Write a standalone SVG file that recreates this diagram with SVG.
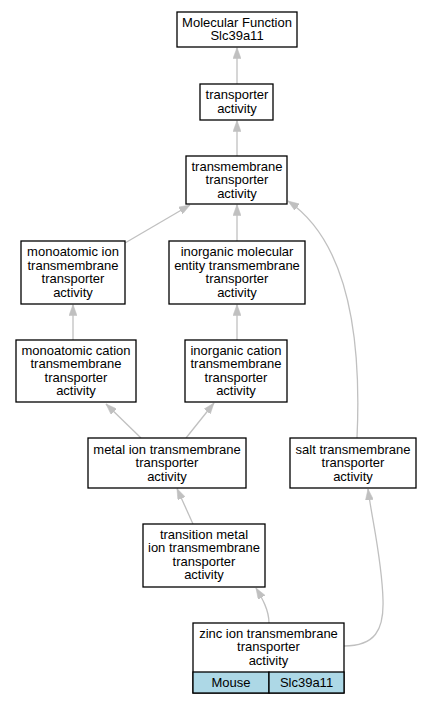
<svg xmlns="http://www.w3.org/2000/svg" width="432" height="704" viewBox="0 0 432 704">
<style>
.box{fill:#ffffff;stroke:#000000;stroke-width:1.3}
.cell{fill:#add8e6;stroke:#000000;stroke-width:1.3}
text{font-family:"Liberation Sans",Arial,sans-serif;font-size:13px;fill:#000000;text-anchor:middle}
.edge{fill:none;stroke:#c0c0c0;stroke-width:1.3}
</style>
<defs>
<marker id="arr" viewBox="0 0 11 8" refX="11" refY="4" markerWidth="11" markerHeight="8" markerUnits="userSpaceOnUse" orient="auto">
<path d="M0,0 L11,4 L0,8 z" fill="#c0c0c0" stroke="#c0c0c0" stroke-width="0.5"/>
</marker>
</defs>
<rect width="432" height="704" fill="#ffffff"/>
<g id="edges">
<path class="edge" marker-end="url(#arr)" d="M237,84 L237,47.5"/>
<path class="edge" marker-end="url(#arr)" d="M237,156 L237,120.5"/>
<path class="edge" marker-end="url(#arr)" d="M125,243 L190,205"/>
<path class="edge" marker-end="url(#arr)" d="M237,241 L237,204.5"/>
<path class="edge" marker-end="url(#arr)" d="M357,438 C362,330 345,240 288,201"/>
<path class="edge" marker-end="url(#arr)" d="M73,340 L73,304.5"/>
<path class="edge" marker-end="url(#arr)" d="M237,340 L237,304.5"/>
<path class="edge" marker-end="url(#arr)" d="M141,438 L106,404"/>
<path class="edge" marker-end="url(#arr)" d="M186,438 L214,403"/>
<path class="edge" marker-end="url(#arr)" d="M193,524 L177,488.5"/>
<path class="edge" marker-end="url(#arr)" d="M269,623 C269,610 262,598 256,588"/>
<path class="edge" marker-end="url(#arr)" d="M344,646 C375,646 384,630 383,600 C382,560 372,520 368,489"/>
</g>
<g id="n1">
<rect class="box" x="177" y="12" width="120" height="35"/>
<text x="237" y="26.5">Molecular Function</text>
<text x="237" y="40">Slc39a11</text>
</g>
<g id="n2">
<rect class="box" x="200" y="84" width="73" height="36"/>
<text x="237" y="99">transporter</text>
<text x="237" y="112.5">activity</text>
</g>
<g id="n3">
<rect class="box" x="186" y="156" width="101" height="48"/>
<text x="237" y="170.5">transmembrane</text>
<text x="237" y="184">transporter</text>
<text x="237" y="197.5">activity</text>
</g>
<g id="n4">
<rect class="box" x="21" y="241" width="104" height="63"/>
<text x="73" y="256">monoatomic ion</text>
<text x="73" y="269.5">transmembrane</text>
<text x="73" y="283">transporter</text>
<text x="73" y="296.5">activity</text>
</g>
<g id="n5">
<rect class="box" x="169" y="241" width="136" height="63"/>
<text x="237" y="256">inorganic molecular</text>
<text x="237" y="269.5">entity transmembrane</text>
<text x="237" y="283">transporter</text>
<text x="237" y="296.5">activity</text>
</g>
<g id="n6">
<rect class="box" x="16" y="340" width="120" height="62"/>
<text x="76" y="354.5">monoatomic cation</text>
<text x="76" y="368">transmembrane</text>
<text x="76" y="381.5">transporter</text>
<text x="76" y="395">activity</text>
</g>
<g id="n7">
<rect class="box" x="185" y="340" width="102" height="62"/>
<text x="236" y="354.5">inorganic cation</text>
<text x="236" y="368">transmembrane</text>
<text x="236" y="381.5">transporter</text>
<text x="236" y="395">activity</text>
</g>
<g id="n8">
<rect class="box" x="88" y="438" width="158" height="50"/>
<text x="167" y="453.5">metal ion transmembrane</text>
<text x="167" y="467">transporter</text>
<text x="167" y="480.5">activity</text>
</g>
<g id="n9">
<rect class="box" x="290" y="438" width="126" height="50"/>
<text x="353" y="453.5">salt transmembrane</text>
<text x="353" y="467">transporter</text>
<text x="353" y="480.5">activity</text>
</g>
<g id="n10">
<rect class="box" x="143" y="524" width="122" height="63"/>
<text x="204" y="538.5">transition metal</text>
<text x="204" y="552">ion transmembrane</text>
<text x="204" y="565.5">transporter</text>
<text x="204" y="579">activity</text>
</g>
<g id="n11">
<rect class="box" x="193" y="623" width="151" height="70"/>
<rect class="cell" x="193" y="672" width="76" height="21"/>
<rect class="cell" x="269" y="672" width="75" height="21"/>
<text x="268.5" y="637.5">zinc ion transmembrane</text>
<text x="268.5" y="651">transporter</text>
<text x="268.5" y="664.5">activity</text>
<text x="231" y="687">Mouse</text>
<text x="306.5" y="687">Slc39a11</text>
</g>
</svg>
